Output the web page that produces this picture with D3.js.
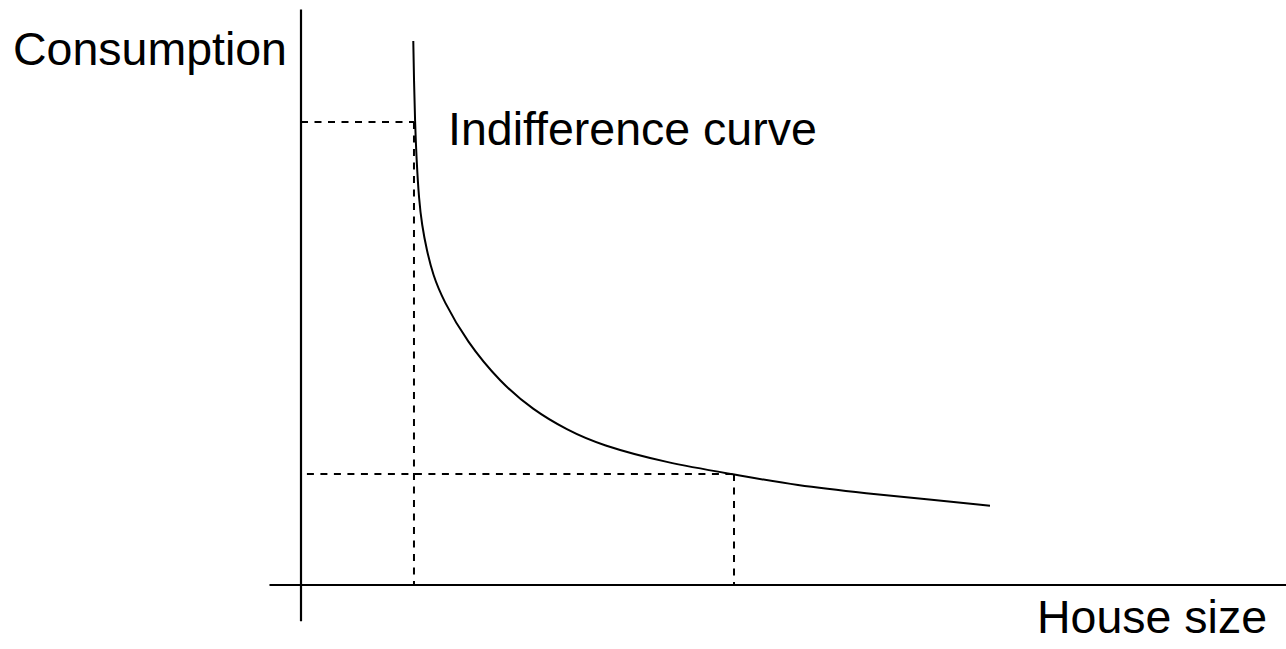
<!DOCTYPE html>
<html>
<head>
<meta charset="utf-8">
<script src="https://cdn.jsdelivr.net/npm/d3@7"></script>
<style>
  body { margin: 0; background: #fff; }
  text { font-family: "Liberation Sans", Arial, sans-serif; fill: #000; }
</style>
</head>
<body>
<div id="chart"></div>
<script>
// indifference curve (house size, consumption)
const houseSize = [11.40, 11.47, 11.57, 11.73, 11.98, 12.28, 12.76, 13.40, 14.42, 16.85,
  20.20, 23.55, 27.01, 30.36, 37.16, 43.89, 50.36, 57.43, 64.19, 69.95]
const consumption = [94.53, 87.75, 80.80, 73.85, 66.90, 62.55, 58.21, 53.87, 49.52, 42.22,
  35.27, 30.41, 26.93, 24.33, 21.20, 19.24, 17.26, 15.93, 14.77, 13.78]

// the two bundles marked with dashed guides
const markX = [11.47, 43.96]
const markY = [80.45, 19.29]
const guideStart = [0, 0.6]

const labels = {x: "House size", y: "Consumption", curve: "Indifference curve"}

const W = 1286, H = 649

const svg = d3.select("#chart")
  .append("svg")
    .attr("width", W)
    .attr("height", H)

// origin at (301, 585)
const x = d3.scaleLinear().domain([0, 100]).range([301, 1286])
const y = d3.scaleLinear().domain([0, 100]).range([585, 9.5])

// axes as plain lines
svg.append("line")
  .attr("x1", x(-3.2)).attr("x2", x(100))
  .attr("y1", y(0)).attr("y2", y(0))
  .attr("stroke", "#000").attr("stroke-width", 2.2)
svg.append("line")
  .attr("x1", x(0)).attr("x2", x(0))
  .attr("y1", y(100)).attr("y2", y(-6.3))
  .attr("stroke", "#000").attr("stroke-width", 2.2)

// dashed guides
const marks = markX.map((v, i) => ({x: v, y: markY[i], x0: guideStart[i]}))
const guides = svg.append("g")
  .attr("stroke", "#000")
  .attr("stroke-width", 2)
  .attr("stroke-dasharray", "7,6.5")
guides.selectAll(".h")
  .data(marks)
  .enter().append("line")
    .attr("x1", d => x(d.x0)).attr("x2", d => x(d.x))
    .attr("y1", d => y(d.y)).attr("y2", d => y(d.y))
guides.selectAll(".v")
  .data(marks)
  .enter().append("line")
    .attr("x1", d => x(d.x)).attr("x2", d => x(d.x))
    .attr("y1", d => y(d.y)).attr("y2", y(0))

// the curve, smoothed through the read points
const pts = houseSize.map((v, i) => [v, consumption[i]])
const line = d3.line()
  .x(d => x(d[0]))
  .y(d => y(d[1]))
  .curve(d3.curveBasis)
svg.append("path")
  .datum(pts)
  .attr("d", line)
  .attr("fill", "none")
  .attr("stroke", "#000")
  .attr("stroke-width", 2)

// labels
svg.append("text")
  .attr("x", 13).attr("y", 65)
  .style("font-size", "46.5px")
  .text(labels.y)
svg.append("text")
  .attr("x", 448).attr("y", 145)
  .style("font-size", "46.5px")
  .text(labels.curve)
svg.append("text")
  .attr("x", 1267).attr("y", 633)
  .attr("text-anchor", "end")
  .style("font-size", "46.5px")
  .text(labels.x)
</script>
</body>
</html>
